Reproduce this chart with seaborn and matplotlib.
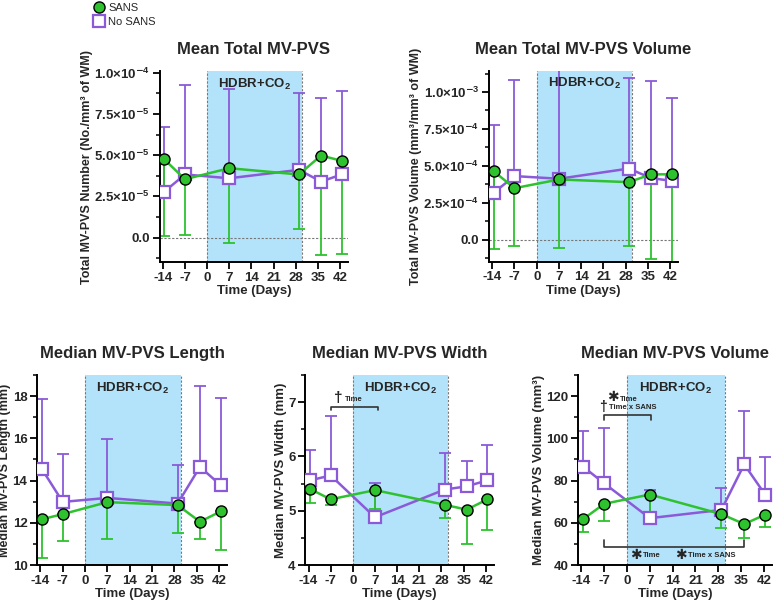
import matplotlib
matplotlib.use("Agg")
import matplotlib.pyplot as plt
import seaborn as sns
import numpy as np
from matplotlib.ticker import AutoMinorLocator, FixedLocator, FuncFormatter
from matplotlib.lines import Line2D

# days of each scan
days = [-13.5, -7, 7, 29, 36, 42.5]

# Mean Total MV-PVS (number per mm3 WM)
num_sans = [4.74e-5, 3.54e-5, 4.21e-5, 3.83e-5, 4.98e-5, 4.66e-5]
num_sans_low = [0.12e-5, 0.18e-5, -0.34e-5, 0.53e-5, -1.03e-5, -0.97e-5]
num_nosans = [2.79e-5, 3.83e-5, 3.60e-5, 4.11e-5, 3.40e-5, 3.83e-5]
num_nosans_high = [6.70e-5, 9.27e-5, 8.99e-5, 8.79e-5, 8.50e-5, 8.89e-5]

# Mean Total MV-PVS Volume (mm3 per mm3 WM)
vol_sans = [4.62e-4, 3.48e-4, 4.07e-4, 3.89e-4, 4.42e-4, 4.42e-4]
vol_sans_low = [-0.66e-4, -0.46e-4, -0.55e-4, -0.41e-4, -1.30e-4, -1.49e-4]
vol_nosans = [3.18e-4, 4.30e-4, 4.12e-4, 4.81e-4, 4.16e-4, 3.98e-4]
vol_nosans_high = [7.73e-4, 10.82e-4, 11.6e-4, 10.96e-4, 10.71e-4, 9.57e-4]

# Median MV-PVS Length (mm)
len_sans = [12.17, 12.41, 12.98, 12.84, 12.05, 12.54]
len_sans_low = [10.35, 11.15, 11.23, 11.50, 11.21, 10.69]
len_nosans = [14.54, 12.99, 13.18, 12.91, 14.65, 13.78]
len_nosans_high = [17.87, 15.26, 15.97, 14.72, 18.49, 17.90]

# Median MV-PVS Width (mm)
wid_sans = [5.40, 5.21, 5.38, 5.11, 5.02, 5.21]
wid_sans_low = [5.14, 5.10, 5.04, 4.87, 4.39, 4.64]
wid_nosans = [5.56, 5.65, 4.88, 5.39, 5.45, 5.56]
wid_nosans_high = [6.12, 6.75, 5.52, 6.07, 5.92, 6.22]

# Median MV-PVS Volume (mm3)
mvol_sans = [61.7, 69.0, 73.4, 64.1, 59.4, 63.9]
mvol_sans_low = [55.7, 61.0, 63.0, 57.3, 52.8, 57.8]
mvol_nosans = [86.6, 78.7, 62.2, 66.1, 87.7, 73.2]
mvol_nosans_high = [103.5, 105.0, 75.4, 76.7, 113.0, 91.3]

GREEN = "#2ec22e"
PURPLE = "#8a5ad8"
SHADE = "#b3e3fa"

sns.set_theme(style="ticks")
plt.rcParams["font.family"] = ["Liberation Sans", "DejaVu Sans"]
plt.rcParams["font.weight"] = "bold"
plt.rcParams["axes.unicode_minus"] = False
plt.rcParams["mathtext.fontset"] = "custom"
plt.rcParams["mathtext.rm"] = "Liberation Sans:bold"
plt.rcParams["mathtext.bf"] = "Liberation Sans:bold"
plt.rcParams["mathtext.it"] = "Liberation Sans:bold"

fig = plt.figure(figsize=(7.75, 6.03), dpi=100)


def sci_fmt(v, pos):
    if abs(v) < 1e-12:
        return "0.0"
    exp = int(np.floor(np.log10(abs(v))))
    mant = v / 10 ** exp
    return r"$%.1f{\times}10^{\mathsf{-}%d}$" % (mant, -exp)


def panel(rect, title, ylabel, sans, sans_low, nosans, nosans_high,
          ylim, yticks, sci=False, zero_line=False, ylab_size=9):
    ax = fig.add_axes(rect)
    ax.axvspan(0, 30, color=SHADE, zorder=0, lw=0)
    for xv in (0, 30):
        ax.axvline(xv, color="#777777", ls=(0, (2, 1.5)), lw=0.8, zorder=1)
    if zero_line:
        ax.axhline(0, color="#777777", ls=(0, (2, 1.5)), lw=0.8, zorder=1)

    # one-sided error bars: No SANS up, SANS down
    nos = np.array(nosans)
    ax.errorbar(days, nos, yerr=[np.zeros_like(nos), np.array(nosans_high) - nos],
                fmt="none", ecolor=PURPLE, elinewidth=1.3, capsize=4, capthick=1.3, zorder=2)
    sa = np.array(sans)
    ax.errorbar(days, sa, yerr=[sa - np.array(sans_low), np.zeros_like(sa)],
                fmt="none", ecolor=GREEN, elinewidth=1.3, capsize=4, capthick=1.3, zorder=2)

    sns.lineplot(x=days, y=nosans, ax=ax, color=PURPLE, lw=1.8, marker="s",
                 markersize=8, markerfacecolor="white", markeredgecolor=PURPLE,
                 markeredgewidth=1.6, zorder=3)
    sns.lineplot(x=days, y=sans, ax=ax, color=GREEN, lw=1.8, marker="o",
                 markersize=8, markerfacecolor=GREEN, markeredgecolor="black",
                 markeredgewidth=1.0, zorder=4)

    ax.set_xlim(-15, 44.5)
    ax.set_ylim(*ylim)
    ax.xaxis.set_major_locator(FixedLocator([-14, -7, 0, 7, 14, 21, 28, 35, 42]))
    ax.yaxis.set_major_locator(FixedLocator(yticks))
    ax.yaxis.set_minor_locator(AutoMinorLocator(2))
    if sci:
        ax.yaxis.set_major_formatter(FuncFormatter(sci_fmt))
    ax.tick_params(axis="both", which="major", labelsize=9.5, width=1.3, length=5,
                   color="black", pad=2)
    ax.tick_params(axis="y", which="minor", width=1.1, length=3, color="black")
    for lab in ax.get_xticklabels() + ax.get_yticklabels():
        lab.set_fontweight("bold")
    sns.despine(ax=ax)
    for s in ("left", "bottom"):
        ax.spines[s].set_linewidth(1.4)
        ax.spines[s].set_color("black")
    ax.set_title(title, fontsize=12, fontweight="bold", pad=12)
    ax.set_xlabel("Time (Days)", fontsize=9.5, fontweight="bold", labelpad=1)
    ax.set_ylabel(ylabel, fontsize=ylab_size, fontweight="bold", labelpad=1)
    ax.text(15, ylim[1] - (ylim[1] - ylim[0]) * 0.03, r"HDBR+CO$_{2}$", ha="center",
            va="top", fontsize=9.5, fontweight="bold", zorder=5)
    return ax


ax1 = panel([0.206, 0.565, 0.243, 0.317], "Mean Total MV-PVS",
            "Total MV-PVS Number (No./mm³ of WM)",
            num_sans, num_sans_low, num_nosans, num_nosans_high,
            (-1.5e-5, 1.01e-4), [0, 2.5e-5, 5e-5, 7.5e-5, 1e-4], sci=True, zero_line=True)

ax2 = panel([0.631, 0.566, 0.244, 0.317], "Mean Total MV-PVS Volume",
            "Total MV-PVS Volume (mm³/mm³ of WM)",
            vol_sans, vol_sans_low, vol_nosans, vol_nosans_high,
            (-1.5e-4, 1.145e-3), [0, 2.5e-4, 5e-4, 7.5e-4, 1e-3], sci=True, zero_line=True)

ax3 = panel([0.048, 0.063, 0.245, 0.315], "Median MV-PVS Length",
            "Median MV-PVS Length (mm)",
            len_sans, len_sans_low, len_nosans, len_nosans_high,
            (10, 19), [10, 12, 14, 16, 18], ylab_size=9)

ax4 = panel([0.394, 0.063, 0.243, 0.315], "Median MV-PVS Width",
            "Median MV-PVS Width (mm)",
            wid_sans, wid_sans_low, wid_nosans, wid_nosans_high,
            (4, 7.5), [4, 5, 6, 7], ylab_size=9.5)

ax5 = panel([0.746, 0.063, 0.25, 0.315], "Median MV-PVS Volume",
            "Median MV-PVS Volume (mm³)",
            mvol_sans, mvol_sans_low, mvol_nosans, mvol_nosans_high,
            (40, 130), [40, 60, 80, 100, 120], ylab_size=9.5)

# significance brackets
sym = ["Liberation Sans", "DejaVu Sans"]
ax4.plot([-7, -7, 8, 8], [6.85, 6.92, 6.92, 6.85], color="#333333", lw=1.2, zorder=5)
ax4.text(-4.5, 6.95, "†", fontsize=11, fontweight="bold", ha="center", va="bottom", family=sym)
ax4.text(-2.5, 6.98, "Time", fontsize=5.5, fontweight="bold", ha="left", va="bottom")

ax5.plot([-7, -7, 7.5, 7.5], [108.7, 111.3, 111.3, 108.7], color="#333333", lw=1.2, zorder=5)
ax5.text(-4.2, 119.5, "✱", fontsize=10, fontweight="bold", ha="center", va="center", family=sym)
ax5.text(-2.2, 118.5, "Time", fontsize=5.5, fontweight="bold", ha="left", va="center")
ax5.text(-7.5, 115.0, "†", fontsize=10, fontweight="bold", ha="center", va="center", family=sym)
ax5.text(-5.5, 114.5, "Time x SANS", fontsize=5.5, fontweight="bold", ha="left", va="center")

ax5.plot([-7, -7, 36, 36], [52.0, 48.7, 48.7, 52.0], color="#333333", lw=1.2, zorder=5)
ax5.text(2.6, 44.8, "✱", fontsize=10, fontweight="bold", ha="center", va="center", family=sym)
ax5.text(4.8, 44.6, "Time", fontsize=5.5, fontweight="bold", ha="left", va="center")
ax5.text(16.6, 44.8, "✱", fontsize=10, fontweight="bold", ha="center", va="center", family=sym)
ax5.text(18.8, 44.6, "Time x SANS", fontsize=5.5, fontweight="bold", ha="left", va="center")

# legend
handles = [
    Line2D([], [], ls="none", marker="o", markersize=8, markerfacecolor=GREEN,
           markeredgecolor="black", label="SANS"),
    Line2D([], [], ls="none", marker="s", markersize=8, markerfacecolor="white",
           markeredgecolor=PURPLE, markeredgewidth=1.6, label="No SANS"),
]
leg = fig.legend(handles=handles, loc="upper left", bbox_to_anchor=(0.108, 1.012),
                 frameon=False, handletextpad=0.3, labelspacing=0.35, handlelength=1.0,
                 prop={"size": 8, "weight": "normal"})

fig.savefig("out.png", dpi=100)
